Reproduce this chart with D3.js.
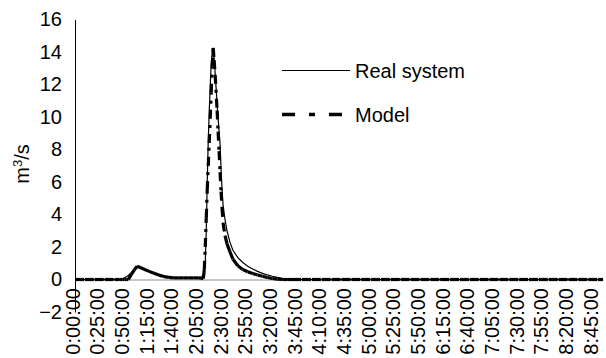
<!DOCTYPE html>
<html>
<head>
<meta charset="utf-8">
<script src="https://cdn.jsdelivr.net/npm/d3@7"></script>
<style>
  body { margin: 0; background: #fff; }
  svg { display: block; font-family: "Liberation Sans", Arial, sans-serif; }
</style>
</head>
<body>
<svg id="chart" width="606" height="358"></svg>
<script>
// time of each sample, in minutes from 0:00:00
const minutes = [
  0, 10, 20, 30, 40, 45, 48, 50, 52, 54, 57, 60, 63, 65, 70, 75, 80, 85, 90, 95,
  100, 105, 110, 115, 120, 125, 128, 130, 131, 132, 133, 134, 135, 136, 137, 138, 139, 140,
  141, 142, 144, 145, 146, 147, 148, 149, 150, 152, 154, 157, 160, 165, 170, 175, 180,
  185, 190, 195, 200, 205, 210, 215, 220, 230, 240, 250, 260, 270, 280, 290, 300, 310,
  320, 330, 340, 350, 360, 370, 380, 390, 400, 410, 420, 430, 440, 450, 460, 470, 480,
  490, 500, 510, 520, 530, 535
]

// discharge, m3/s
const realSystem = [
  0, 0, 0, 0, 0, 0, 0.03, 0.1, 0.17, 0.25, 0.42, 0.62, 0.82, 0.78, 0.66, 0.53, 0.4, 0.28, 0.19, 0.13,
  0.11, 0.1, 0.1, 0.1, 0.1, 0.1, 0.12, 0.3, 0.6, 1.1, 3.0, 6.0, 8.5, 10.3, 11.9, 13.2, 14.0, 14.25,
  13.6, 12.7, 10.8, 9.9, 9.1, 8.3, 6.8, 5.5, 4.6, 3.7, 3.0, 2.3, 1.8, 1.35, 1.05, 0.82, 0.65,
  0.5, 0.38, 0.28, 0.2, 0.13, 0.07, 0.03, 0, 0, 0, 0, 0, 0, 0, 0, 0, 0,
  0, 0, 0, 0, 0, 0, 0, 0, 0, 0, 0, 0, 0, 0, 0, 0, 0,
  0, 0, 0, 0, 0, 0
]

const model = [
  0, 0, 0, 0, 0, 0, 0, 0, 0, 0, 0.3, 0.58, 0.82, 0.77, 0.63, 0.5, 0.38, 0.27, 0.18, 0.13,
  0.1, 0.1, 0.1, 0.1, 0.1, 0.1, 0.08, 0.05, 0.6, 2.0, 3.8, 5.5, 7.0, 8.4, 9.9, 11.5, 13.1, 14.25,
  13.5, 12.6, 10.4, 9.1, 7.9, 6.6, 5.4, 4.4, 3.5, 2.7, 2.2, 1.7, 1.25, 0.85, 0.62, 0.48, 0.37,
  0.28, 0.2, 0.12, 0.06, 0.02, 0, 0, 0, 0, 0, 0, 0, 0, 0, 0, 0, 0,
  0, 0, 0, 0, 0, 0, 0, 0, 0, 0, 0, 0, 0, 0, 0, 0, 0,
  0, 0, 0, 0, 0, 0
]

const yTicks = [-2, 0, 2, 4, 6, 8, 10, 12, 14, 16]
const xTickLabels = [
  '0:00:00', '0:25:00', '0:50:00', '1:15:00', '1:40:00', '2:05:00', '2:30:00', '2:55:00',
  '3:20:00', '3:45:00', '4:10:00', '4:35:00', '5:00:00', '5:25:00', '5:50:00', '6:15:00',
  '6:40:00', '7:05:00', '7:30:00', '7:55:00', '8:20:00', '8:45:00'
]
const seriesNames = ['Real system', 'Model']

const fontSize = 20
const svg = d3.select('#chart')

const x = d3.scaleLinear().domain([0, 535]).range([75, 603])
const y = d3.scaleLinear().domain([-2, 16]).range([312, 19.5])

const toMinutes = s => {
  const p = s.split(':').map(Number)
  return p[0] * 60 + p[1]
}

// x axis (gray line at zero, rotated labels)
const xAxis = svg.append('g')
  .attr('transform', 'translate(0,' + y(0) + ')')
  .call(d3.axisBottom(x)
    .tickValues(xTickLabels.map(toMinutes))
    .tickFormat((d, i) => xTickLabels[i])
    .tickSize(0)
    .tickSizeOuter(0))
xAxis.attr('font-family', null)
xAxis.select('.domain').attr('stroke', '#8c8c8c')
xAxis.selectAll('text')
  .attr('transform', 'rotate(-90)')
  .attr('x', -8.5)
  .attr('y', -3)
  .attr('dy', '0.35em')
  .attr('text-anchor', 'end')
  .attr('fill', '#000')
  .style('font-size', fontSize + 'px')

// y axis
const yAxis = svg.append('g')
  .attr('transform', 'translate(75,0)')
  .call(d3.axisLeft(y)
    .tickValues(yTicks)
    .tickSize(0)
    .tickSizeOuter(0)
    .tickPadding(13))
yAxis.attr('font-family', null)
yAxis.select('.domain').attr('stroke', '#000')
yAxis.selectAll('text')
  .attr('fill', '#000')
  .style('font-size', fontSize + 'px')

// y axis title
const yTitle = svg.append('text')
  .attr('transform', 'translate(29,164)rotate(-90)')
  .attr('text-anchor', 'middle')
  .style('font-size', fontSize + 'px')
yTitle.append('tspan').text('m')
yTitle.append('tspan').attr('dy', -7).style('font-size', '13px').text('3')
yTitle.append('tspan').attr('dy', 7).text('/s')

const realPts = minutes.map((t, i) => [t, realSystem[i]])
const modelPts = minutes.map((t, i) => [t, model[i]])

const line = d3.line().x(d => x(d[0])).y(d => y(d[1]))

// model: dash pattern restarts on every segment
svg.append('g')
  .selectAll('path')
  .data(d3.pairs(modelPts))
  .join('path')
  .attr('d', d => line(d))
  .attr('fill', 'none')
  .attr('stroke', '#000')
  .attr('stroke-width', 3.2)
  .attr('stroke-dasharray', '9,6,3,6')

svg.append('path')
  .datum(realPts)
  .attr('d', line)
  .attr('fill', 'none')
  .attr('stroke', '#000')
  .attr('stroke-width', 1.2)

// legend
const legend = svg.append('g')
legend.append('line')
  .attr('x1', 282).attr('x2', 350).attr('y1', 70.5).attr('y2', 70.5)
  .attr('stroke', '#000').attr('stroke-width', 1.2)
legend.append('line')
  .attr('x1', 282).attr('x2', 343).attr('y1', 114.5).attr('y2', 114.5)
  .attr('stroke', '#000').attr('stroke-width', 3.5)
  .attr('stroke-dasharray', '13,14,6,14')
legend.selectAll('text')
  .data(seriesNames)
  .join('text')
  .attr('x', 355)
  .attr('y', (d, i) => i === 0 ? 77.5 : 122)
  .style('font-size', fontSize + 'px')
  .text(d => d)
</script>
</body>
</html>
